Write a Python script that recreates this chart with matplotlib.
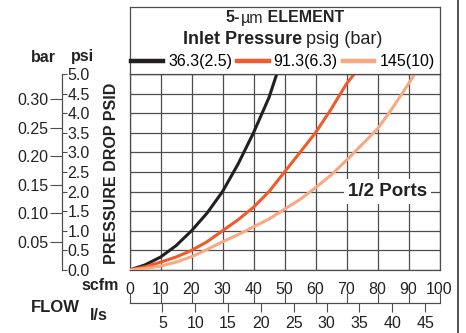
import matplotlib.pyplot as plt
from matplotlib.lines import Line2D

plt.rcParams['font.family'] = ['Liberation Sans', 'DejaVu Sans']

# flow (scfm) vs pressure drop (psid)
scfm_black = [0, 5, 10, 15, 20, 25, 30, 35, 40, 45, 47.5]
psi_black = [0, 0.13, 0.33, 0.62, 1.0, 1.45, 2.0, 2.7, 3.5, 4.4, 5.0]

scfm_orange = [0, 5, 10, 15, 20, 25, 30, 35, 40, 45, 50, 55, 60, 65, 70, 72.5]
psi_orange = [0, 0.08, 0.2, 0.33, 0.5, 0.72, 1.0, 1.28, 1.6, 2.0, 2.5, 3.0, 3.5, 4.1, 4.75, 5.0]

scfm_light = [0, 5, 10, 15, 20, 25, 30, 35, 40, 45, 47, 50, 55, 60, 65, 70, 75, 80, 85, 90, 92]
psi_light = [0, 0.04, 0.1, 0.2, 0.34, 0.52, 0.72, 0.9, 1.1, 1.3, 1.4, 1.55, 1.8, 2.1, 2.42, 2.8,
             3.2, 3.6, 4.15, 4.75, 5.0]

series_labels = ["36.3(2.5)", "91.3(6.3)", "145(10)"]
series_colors = ["#231f20", "#f15a29", "#f9a882"]

scfm_ticks = list(range(0, 101, 10))
psi_ticks = [i * 0.5 for i in range(11)]
bar_ticks = [0.05, 0.10, 0.15, 0.20, 0.25, 0.30]
ls_ticks = [5, 10, 15, 20, 25, 30, 35, 40, 45]

PSI_PER_BAR = 14.5038
SCFM_PER_LS = 2.1189

W, H = 466, 333
gray = "#4d4d4d"
ink = "#222222"


def fx(px):
    return px / W


def fy(py):
    return 1 - py / H


fig = plt.figure(figsize=(W / 100, H / 100), dpi=100)

# main grid
left, right, top, bottom = 129.5, 439.5, 74, 270
ax = fig.add_axes([fx(left), fy(bottom), (right - left) / W, (bottom - top) / H])
for xs, ys, c, lab in zip([scfm_black, scfm_orange, scfm_light],
                          [psi_black, psi_orange, psi_light],
                          series_colors, series_labels):
    ax.plot(xs, ys, color=c, lw=2.2, label=lab, zorder=3, solid_capstyle='butt')
ax.set_xlim(0, 100)
ax.set_ylim(0, 5)
ax.set_xticks(scfm_ticks)
ax.set_yticks(psi_ticks)
ax.grid(True, color=gray, lw=0.9)
ax.tick_params(length=0, labelleft=False, labelsize=11.5, pad=9, colors=ink)
for s in ax.spines.values():
    s.set_color(gray)
    s.set_linewidth(0.9)
ax.text(83.2, 2.0, "1/2 Ports", fontsize=13.5, weight='bold', ha='center', va='center',
        color=ink, zorder=4,
        bbox=dict(facecolor='white', edgecolor='none', pad=3))

# header box with title and legend
hax = fig.add_axes([fx(left), fy(top), (right - left) / W, (top - 7) / H])
hax.set_xticks([])
hax.set_yticks([])
for s in hax.spines.values():
    s.set_color(gray)
    s.set_linewidth(0.9)

t1 = fig.text(fx(226), fy(18), "5-", weight='bold', fontsize=11.5, va='center', color=ink)
t2 = hax.annotate("µm", xy=(1, 0), xycoords=t1, va='bottom', fontsize=11.5, color=ink)
hax.annotate(" ELEMENT", xy=(1, 0), xycoords=t2, va='bottom', fontsize=11.5, weight='bold',
             color=ink)
t3 = fig.text(fx(183), fy(40), "Inlet Pressure", weight='bold', fontsize=13, va='center',
              color=ink)
hax.annotate("psig (bar)", xy=(1, 0), xycoords=t3, xytext=(3, 0), textcoords='offset points',
             va='bottom', fontsize=13, color=ink)

handles, labels = ax.get_legend_handles_labels()
handles = [Line2D([], [], color=h.get_color(), lw=3.2) for h in handles]
hax.legend(handles, labels, loc='center', bbox_to_anchor=(0.495, 0.18), ncol=3,
           frameon=False, fontsize=11.5, handlelength=2.0, handletextpad=0.3,
           columnspacing=0.3, borderpad=0, borderaxespad=0)

# psi axis (ticks to the right) and bar axis (ticks to the left)
pax = fig.add_axes([fx(62), fy(bottom), 1e-6, (bottom - top) / H])
pax.set_ylim(0, 5)
pax.set_xticks([])
for k in ['top', 'bottom', 'right']:
    pax.spines[k].set_visible(False)
pax.spines['left'].set_color(gray)
pax.yaxis.tick_right()
pax.set_yticks(psi_ticks)
pax.set_yticklabels([f"{v:.1f}" for v in psi_ticks])
pax.tick_params(axis='y', length=3.6, pad=0.5, labelsize=11.5, color=gray, labelcolor=ink)

bax = pax.secondary_yaxis('left', functions=(lambda p: p / PSI_PER_BAR, lambda b: b * PSI_PER_BAR))
bax.set_yticks(bar_ticks)
bax.set_yticklabels([f"{v:.2f}" for v in bar_ticks])
bax.tick_params(axis='y', length=8.5, pad=1.5, labelsize=11.5, color=gray, labelcolor=ink)
bax.spines['left'].set_color(gray)

# l/s axis under the scfm labels
fax = fig.add_axes([fx(left), fy(303), (right - left) / W, 1e-6])
fax.set_xlim(0, 100)
fax.set_yticks([])
for k in ['top', 'left', 'right']:
    fax.spines[k].set_visible(False)
fax.spines['bottom'].set_color(gray)
fax.set_xticks(scfm_ticks)
fax.tick_params(axis='x', direction='in', length=7, labelbottom=False, color=gray)

lax = fax.secondary_xaxis('bottom', functions=(lambda s: s / SCFM_PER_LS, lambda l: l * SCFM_PER_LS))
lax.set_xticks(ls_ticks)
lax.tick_params(axis='x', direction='out', length=6.5, pad=3, labelsize=11.5, color=gray,
                labelcolor=ink)
lax.spines['bottom'].set_color(gray)

# axis titles
fig.text(fx(43), fy(57), "bar", weight='bold', fontsize=11.5, ha='center', va='center', color=ink)
fig.text(fx(82), fy(57), "psi", weight='bold', fontsize=11.5, ha='center', va='center', color=ink)
fig.text(fx(112), fy(173), "PRESSURE DROP PSID", weight='bold', fontsize=11.5, rotation=90,
         ha='center', va='center', color=ink)
fig.text(fx(119), fy(286), "scfm", weight='bold', fontsize=11.5, ha='right', va='center', color=ink)
fig.text(fx(55), fy(308), "FLOW", weight='bold', fontsize=12, ha='center', va='center', color=ink)
fig.text(fx(99), fy(316), "l/s", weight='bold', fontsize=11.5, ha='center', va='center', color=ink)

fig.add_artist(Line2D([fx(458)] * 2, [0, 1], transform=fig.transFigure, color="#333333", lw=1.2))

fig.savefig("out.png", dpi=100)
